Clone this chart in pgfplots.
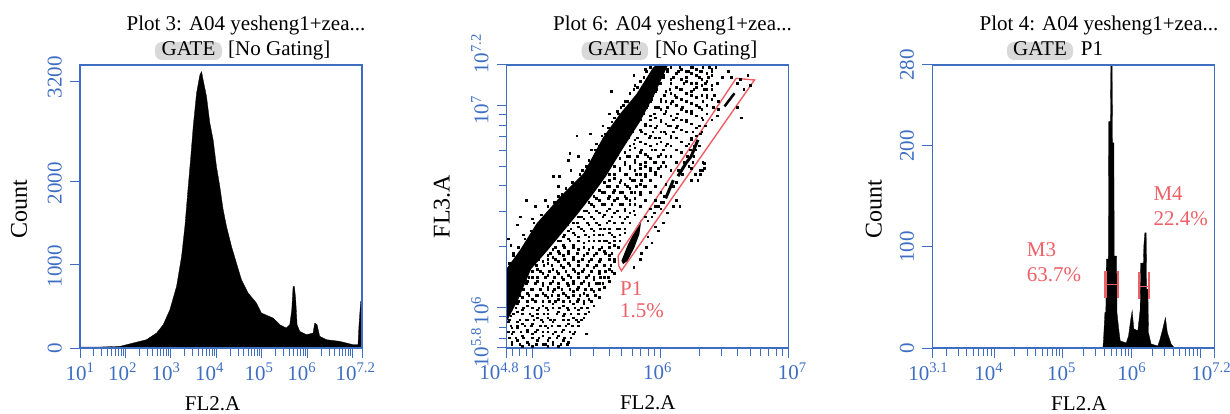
\documentclass[border=0pt]{standalone}
\usepackage{fontspec}
\usepackage{pgfplots}
\pgfplotsset{compat=1.18}
\setmainfont{Liberation Serif}
\definecolor{fb}{HTML}{3D6EC2}
\definecolor{fr}{HTML}{EE5F66}
\newcommand{\tp}[1]{10\textsuperscript{#1}}
\newcommand{\fs}{\fontsize{21}{24}\selectfont}
\newcommand{\fy}{\fontsize{24}{27}\selectfont}
\pgfplotsset{fl/.style={
  scale only axis, axis line style={fb,line width=1.3pt}, tick style={fb,line width=1pt},
  tick align=outside, xtick pos=bottom, ytick pos=left, major tick length=10pt, minor tick length=8pt,
  tick label style={text=fb,font=\fs}, label style={font=\fs,text=black,inner sep=0pt},
  ylabel style={font=\fy},
  xticklabel style={anchor=base,yshift=-22pt,inner sep=0pt},
  yticklabel style={rotate=90,anchor=south,inner sep=0pt,yshift=8pt},
  clip=true, axis on top,
  width=282pt, height=283pt, anchor=south west}}
\begin{document}
\begin{tikzpicture}[x=1pt,y=1pt]
\path[use as bounding box] (0,0) rectangle (1230,413);
% ---------- left
\begin{axis}[fl, at={(80pt,65pt)}, xmode=log, xmin=10, xmax=15848932, ymin=0, ymax=3400,
  xtick={10,100,1000,10000,100000,1000000,10000000},
  minor xtick={20,30,40,50,60,70,80,90,200,300,400,500,600,700,800,900,2000,3000,4000,5000,6000,7000,8000,9000,20000,30000,40000,50000,60000,70000,80000,90000,200000,300000,400000,500000,600000,700000,800000,900000,2000000,3000000,4000000,5000000,6000000,7000000,8000000,9000000},
  xticklabels={\tp{1},\tp{2}\kern6pt,\tp{3}\kern10pt,\tp{4}\kern14pt,\tp{5}\kern6pt,\tp{6}\kern11pt,{}},
  extra x ticks={15848932}, extra x tick labels={\tp{7.2}\kern13pt},
  ytick={0,1000,2000,3200},
  yticklabels={0,\kern-3pt 1000,\kern-3pt 2000,\kern9pt 3200},
  xlabel={FL2.A}, ylabel={Count},
  xlabel style={at={(axis description cs:0.47,0)},anchor=base,yshift=-62pt},
  ylabel style={at={(axis description cs:0,0.49)},anchor=base,yshift=53pt}]
\addplot[fill=black,draw=black,line width=.3pt] table[x expr=10^\thisrow{lx},y=c]{
lx c
1.000 12
1.439 12
1.878 20
2.171 60
2.464 100
2.684 180
2.830 280
2.976 460
3.123 740
3.233 1100
3.306 1460
3.379 1940
3.430 2260
3.489 2660
3.562 3060
3.635 3280
3.672 3320
3.723 3180
3.782 3020
3.855 2700
3.928 2500
4.001 2180
4.074 1940
4.148 1660
4.221 1460
4.331 1220
4.440 1020
4.550 820
4.697 660
4.880 540
4.989 420
5.246 360
5.392 280
5.538 240
5.612 280
5.656 460
5.685 740
5.714 740
5.743 580
5.773 280
5.831 200
5.978 160
6.124 180
6.161 300
6.212 280
6.270 140
6.417 100
6.710 80
7.002 40
7.112 40
7.134 280
7.171 560
7.200 560
} \closedcycle;
\end{axis}
% ---------- middle
\begin{axis}[fl, at={(506.7pt,65pt)}, xmode=log, ymode=log, xmin=63096, xmax=10000000, ymin=630957, ymax=15848932,
  xtick={100000,1000000,10000000},
  minor xtick={70000,80000,90000,200000,300000,400000,500000,600000,700000,800000,900000,2000000,3000000,4000000,5000000,6000000,7000000,8000000,9000000},
  xticklabels={\kern9pt\tp{5},\tp{6}\kern6pt,\kern7pt\tp{7}},
  extra x ticks={63096}, extra x tick labels={\tp{4.8}\kern15pt},
  ytick={1000000,10000000},
  minor ytick={700000,800000,900000,2000000,3000000,4000000,5000000,6000000,7000000,8000000,9000000},
  yticklabels={\kern-7pt\tp{6},\kern-10pt\tp{7}},
  extra y ticks={630957,15848932}, extra y tick labels={\tp{5.8},\kern22pt\tp{7.2}},
  xlabel={FL2.A}, ylabel={FL3.A},
  xlabel style={at={(axis description cs:0.5,0)},anchor=base,yshift=-62pt},
  ylabel style={at={(axis description cs:0,0.5)},anchor=base,yshift=57pt}]
\addplot[fill=black,draw=none] table[x expr=10^\thisrow{lx},y expr=10^\thisrow{ly},row sep=\\]{
lx ly\\ 4.8 6.194\\ 4.904 6.285\\ 5.033 6.416\\ 5.215 6.547\\ 5.397 6.662\\ 5.552 6.842\\ 5.682 6.957\\ 5.812 7.056\\ 5.941 7.187\\ 5.967 7.2\\
6.058 7.2\\ 5.95 7.05\\ 5.84 6.92\\ 5.69 6.77\\ 5.575 6.65\\ 5.46 6.55\\ 5.35 6.46\\ 5.22 6.36\\ 5.115 6.28\\ 4.99 6.19\\ 4.89 6.04\\ 4.8 5.93\\
};
\addplot[fill=black,draw=none] table[x expr=10^\thisrow{lx},y expr=10^\thisrow{ly},row sep=\\]{
lx ly\\ 5.695 6.232\\ 5.747 6.314\\ 5.812 6.396\\ 5.851 6.437\\ 5.835 6.363\\ 5.796 6.297\\ 5.744 6.232\\ 5.708 6.215\\
};
\addplot[black,line width=3pt] table[x expr=10^\thisrow{lx},y expr=10^\thisrow{ly},row sep=\\]{lx ly\\ 6.04 6.54\\ 6.1 6.63\\};
\addplot[black,line width=3pt] table[x expr=10^\thisrow{lx},y expr=10^\thisrow{ly},row sep=\\]{lx ly\\ 6.136 6.65\\ 6.2 6.716\\ 6.24 6.749\\ 6.292 6.83\\};
\addplot[black,line width=2.5pt] table[x expr=10^\thisrow{lx},y expr=10^\thisrow{ly},row sep=\\]{lx ly\\ 6.499 6.995\\ 6.577 7.06\\};
\addplot[black,line width=3pt] table[x expr=10^\thisrow{lx},y expr=10^\thisrow{ly},row sep=\\]{lx ly\\ 5.96 7.2\\ 7 7.2\\};
\addplot[only marks,mark=square*,mark size=.8pt,black] table[x expr=10^\thisrow{lx},y expr=10^\thisrow{ly},row sep=\\]{
lx ly\\
4.84 5.82\\ 4.9 5.82\\ 4.97 5.82\\ 5.03 5.82\\ 5.1 5.82\\ 5.16 5.82\\ 5.22 5.82\\ 5.27 5.82\\
4.82 5.85\\ 4.87 5.85\\ 4.93 5.85\\ 5 5.85\\ 5.05 5.85\\ 5.13 5.85\\ 5.19 5.85\\ 5.25 5.85\\ 5.3 5.85\\
4.81 5.88\\ 4.85 5.88\\ 4.91 5.88\\ 4.96 5.88\\ 5.02 5.88\\ 5.08 5.88\\ 5.12 5.88\\ 5.18 5.88\\ 5.23 5.88\\ 5.29 5.88\\ 5.33 5.88\\ 5.42 5.87\\
4.83 5.91\\ 4.88 5.91\\ 4.94 5.91\\ 4.99 5.91\\ 5.06 5.91\\ 5.1 5.91\\ 5.15 5.91\\ 5.21 5.91\\ 5.26 5.91\\ 5.31 5.91\\ 5.36 5.91\\
4.82 5.94\\ 4.9 5.94\\ 4.95 5.94\\ 5.01 5.94\\ 5.07 5.94\\ 5.14 5.94\\ 5.17 5.94\\ 5.24 5.94\\ 5.28 5.94\\ 5.34 5.94\\ 5.38 5.94\\
4.85 5.97\\ 4.92 5.97\\ 4.98 5.97\\ 5.04 5.97\\ 5.09 5.97\\ 5.12 5.97\\ 5.19 5.97\\ 5.25 5.97\\ 5.3 5.97\\ 5.36 5.97\\ 5.41 5.97\\
4.87 6\\ 4.93 6\\ 5 6\\ 5.05 6\\ 5.11 6\\ 5.16 6\\ 5.21 6\\ 5.27 6\\ 5.33 6\\ 5.38 6\\ 5.43 6\\
4.89 6.03\\ 4.96 6.03\\ 5.02 6.03\\ 5.08 6.03\\ 5.13 6.03\\ 5.18 6.03\\ 5.24 6.03\\ 5.29 6.03\\ 5.35 6.03\\ 5.4 6.03\\ 5.46 6.03\\
4.9 6.06\\ 4.97 6.06\\ 5.03 6.06\\ 5.1 6.06\\ 5.15 6.06\\ 5.2 6.06\\ 5.26 6.06\\ 5.32 6.06\\ 5.37 6.06\\ 5.43 6.06\\ 5.49 6.06\\
4.93 6.09\\ 4.99 6.09\\ 5.06 6.09\\ 5.12 6.09\\ 5.17 6.09\\ 5.23 6.09\\ 5.29 6.09\\ 5.35 6.09\\ 5.41 6.09\\ 5.46 6.09\\ 5.52 6.09\\
4.95 6.12\\ 5.02 6.12\\ 5.08 6.12\\ 5.14 6.12\\ 5.2 6.12\\ 5.27 6.12\\ 5.32 6.12\\ 5.38 6.12\\ 5.44 6.12\\ 5.5 6.12\\ 5.55 6.12\\
4.97 6.15\\ 5.04 6.15\\ 5.1 6.15\\ 5.17 6.15\\ 5.23 6.15\\ 5.3 6.15\\ 5.36 6.15\\ 5.42 6.15\\ 5.48 6.15\\ 5.53 6.15\\ 5.59 6.15\\
5 6.18\\ 5.06 6.18\\ 5.13 6.18\\ 5.19 6.18\\ 5.26 6.18\\ 5.33 6.18\\ 5.39 6.18\\ 5.46 6.18\\ 5.52 6.18\\ 5.57 6.18\\ 5.62 6.18\\
5.03 6.21\\ 5.09 6.21\\ 5.15 6.21\\ 5.22 6.21\\ 5.29 6.21\\ 5.36 6.21\\ 5.43 6.21\\ 5.5 6.21\\ 5.56 6.21\\ 5.61 6.21\\
5.05 6.24\\ 5.12 6.24\\ 5.18 6.24\\ 5.25 6.24\\ 5.32 6.24\\ 5.39 6.24\\ 5.46 6.24\\ 5.53 6.24\\ 5.6 6.24\\ 5.64 6.24\\
5.08 6.27\\ 5.14 6.27\\ 5.21 6.27\\ 5.28 6.27\\ 5.35 6.27\\ 5.43 6.27\\ 5.5 6.27\\ 5.57 6.27\\ 5.62 6.27\\
5.11 6.3\\ 5.18 6.3\\ 5.25 6.3\\ 5.32 6.3\\ 5.4 6.3\\ 5.47 6.3\\ 5.54 6.3\\ 5.6 6.3\\ 5.67 6.3\\
5.15 6.33\\ 5.22 6.33\\ 5.29 6.33\\ 5.36 6.33\\ 5.44 6.33\\ 5.52 6.33\\ 5.58 6.33\\ 5.64 6.33\\
5.18 6.36\\ 5.25 6.36\\ 5.33 6.36\\ 5.41 6.36\\ 5.48 6.36\\ 5.55 6.36\\ 5.62 6.36\\ 5.68 6.36\\
5.22 6.39\\ 5.3 6.39\\ 5.38 6.39\\ 5.46 6.39\\ 5.53 6.39\\ 5.6 6.39\\ 5.66 6.39\\ 5.72 6.39\\
5.27 6.42\\ 5.35 6.42\\ 5.43 6.42\\ 5.5 6.42\\ 5.58 6.42\\ 5.64 6.42\\ 5.7 6.42\\
5.3 6.45\\ 5.38 6.45\\ 5.46 6.45\\ 5.55 6.45\\ 5.62 6.45\\ 5.68 6.45\\ 5.74 6.45\\
5.34 6.48\\ 5.42 6.48\\ 5.5 6.48\\ 5.58 6.48\\ 5.66 6.48\\ 5.72 6.48\\ 5.79 6.48\\
5.37 6.51\\ 5.46 6.51\\ 5.54 6.51\\ 5.62 6.51\\ 5.7 6.51\\ 5.76 6.51\\
5.41 6.54\\ 5.5 6.54\\ 5.59 6.54\\ 5.66 6.54\\ 5.73 6.54\\ 5.8 6.54\\
5.45 6.57\\ 5.54 6.57\\ 5.63 6.57\\ 5.7 6.57\\ 5.77 6.57\\ 5.84 6.57\\
5.49 6.6\\ 5.58 6.6\\ 5.66 6.6\\ 5.74 6.6\\ 5.81 6.6\\ 5.87 6.6\\
5.52 6.63\\ 5.6 6.63\\ 5.69 6.63\\ 5.78 6.63\\ 5.85 6.63\\ 5.92 6.63\\
5.56 6.66\\ 5.64 6.66\\ 5.73 6.66\\ 5.81 6.66\\ 5.88 6.66\\ 5.96 6.66\\ 6.31 6.66\\
5.58 6.69\\ 5.68 6.69\\ 5.76 6.69\\ 5.84 6.69\\ 5.92 6.69\\ 5.98 6.69\\ 6.24 6.69\\ 6.34 6.69\\
5.62 6.72\\ 5.72 6.72\\ 5.8 6.72\\ 5.88 6.72\\ 5.95 6.72\\ 6.02 6.72\\ 6.33 6.72\\
5.65 6.75\\ 5.74 6.75\\ 5.82 6.75\\ 5.9 6.75\\ 5.98 6.75\\ 6.26 6.75\\
5.67 6.78\\ 5.76 6.78\\ 5.85 6.78\\ 5.93 6.78\\ 6.02 6.78\\ 6.23 6.78\\
5.7 6.81\\ 5.79 6.81\\ 5.88 6.81\\ 5.97 6.81\\ 6.05 6.81\\ 6.22 6.81\\
5.74 6.84\\ 5.82 6.84\\ 5.91 6.84\\ 5.99 6.84\\ 6.08 6.84\\ 6.24 6.84\\
5.77 6.87\\ 5.85 6.87\\ 5.94 6.87\\ 6.03 6.87\\ 6.1 6.87\\ 6.25 6.87\\
5.8 6.9\\ 5.88 6.9\\ 5.97 6.9\\ 6.06 6.9\\ 6.13 6.9\\ 6.3 6.9\\
5.83 6.93\\ 5.92 6.93\\ 6 6.93\\ 6.1 6.93\\ 6.2 6.93\\ 6.33 6.93\\
5.86 6.96\\ 5.95 6.96\\ 6.03 6.96\\ 6.13 6.96\\ 6.24 6.96\\ 6.36 6.96\\
5.89 6.99\\ 5.98 6.99\\ 6.05 6.99\\ 6.17 6.99\\ 6.3 6.99\\ 6.41 6.99\\
5.92 7.02\\ 6 7.02\\ 6.09 7.02\\ 6.2 7.02\\ 6.33 7.02\\ 6.45 7.02\\
5.94 7.05\\ 6.03 7.05\\ 6.11 7.05\\ 6.24 7.05\\ 6.36 7.05\\ 6.42 7.05\\
5.97 7.08\\ 6.07 7.08\\ 6.15 7.08\\ 6.26 7.08\\ 6.34 7.08\\ 6.4 7.08\\
6 7.11\\ 6.08 7.11\\ 6.18 7.11\\ 6.28 7.11\\ 6.35 7.11\\ 6.44 7.11\\ 6.6 7.11\\
6.02 7.14\\ 6.1 7.14\\ 6.2 7.14\\ 6.3 7.14\\ 6.37 7.14\\ 6.48 7.14\\ 6.55 7.14\\
6.05 7.17\\ 6.14 7.17\\ 6.22 7.17\\ 6.31 7.17\\ 6.4 7.17\\ 6.53 7.17\\
6.08 7.19\\ 6.15 7.19\\ 6.25 7.19\\ 6.33 7.19\\ 6.38 7.19\\ 6.43 7.19\\
4.95 6.53\\ 5.02 6.5\\ 4.904 6.45\\ 4.81 6.34\\ 4.83 6.31\\ 4.88 6.41\\ 5.163 6.65\\ 5.21 6.65\\ 5.29 6.765\\ 5.28 6.73\\ 5.345 6.85\\ 5.45 6.86\\ 5.5 6.81\\ 5.617 7.07\\ 5.67 6.96\\ 5.79 7.15\\
5.2 6.6\\ 5.1 6.53\\ 5.0 6.44\\ 4.93 6.36\\ 4.85 6.27\\ 5.3 6.68\\ 5.36 6.75\\ 5.46 6.78\\ 5.55 6.9\\ 5.6 6.96\\ 5.72 7.02\\ 5.8 7.1\\ 5.88 7.18\\
5.89 6.3\\ 5.84 6.24\\ 5.79 6.2\\ 5.96 6.4\\ 6.15 6.5\\ 6.24 6.63\\ 6.33 6.68\\ 6.34 6.715\\ 6.63 6.94\\ 6.6 6.99\\ 6.68 7.15\\
5.95 6.47\\ 5.98 6.5\\ 6 6.49\\ 6.02 6.52\\ 6.32 6.87\\ 6.35 6.9\\ 6.4 6.93\\ 6.44 6.95\\ 6.45 6.98\\ 6.7 7.1\\ 6.65 7.08\\ 6.62 7.13\\
5.9 6.43\\ 5.93 6.45\\ 5.96 6.5\\ 6 6.52\\ 6.03 6.55\\ 6.1 6.6\\ 6.12 6.62\\ 6.14 6.68\\ 6.17 6.66\\ 6.18 6.72\\ 6.22 6.7\\ 6.25 6.72\\ 6.27 6.78\\ 6.3 6.8\\ 6.31 6.86\\ 6.28 6.85\\ 6.26 6.8\\ 6.21 6.75\\
6.27 6.66\\ 6.31 6.68\\ 6.29 6.63\\ 6.1 6.5\\ 6.12 6.53\\ 6.05 6.47\\ 5.98 6.38\\ 6.02 6.42\\ 5.9 6.35\\ 5.85 6.27\\ 5.93 6.32\\
4.82 6.22\\ 4.85 6.26\\ 4.87 6.23\\ 4.89 6.3\\ 4.92 6.29\\ 4.94 6.34\\ 4.97 6.33\\ 4.99 6.38\\ 5.01 6.42\\ 5.04 6.41\\ 5.07 6.46\\ 5.09 6.43\\ 5.12 6.5\\ 5.14 6.47\\ 5.17 6.52\\ 5.2 6.55\\ 5.23 6.56\\ 5.26 6.59\\ 5.29 6.58\\ 5.31 6.62\\ 5.34 6.61\\ 5.37 6.66\\ 5.39 6.68\\ 5.42 6.7\\ 5.44 6.73\\ 5.47 6.74\\ 5.49 6.78\\ 5.52 6.8\\ 5.54 6.85\\ 5.57 6.86\\ 5.59 6.89\\ 5.62 6.92\\ 5.64 6.94\\ 5.66 6.97\\ 5.69 6.99\\ 5.71 7\\ 5.74 7.02\\ 5.76 7.06\\ 5.79 7.08\\ 5.82 7.09\\ 5.84 7.12\\ 5.87 7.14\\ 5.89 7.17\\ 5.92 7.19\\
4.81 5.93\\ 4.83 5.96\\ 4.84 6\\ 4.87 6.03\\ 4.89 6.07\\ 4.91 6.1\\ 4.93 6.15\\ 4.96 6.19\\ 4.98 6.21\\ 5.01 6.22\\ 5.03 6.24\\ 5.06 6.26\\ 5.09 6.28\\ 5.12 6.3\\ 5.15 6.33\\ 5.18 6.35\\ 5.21 6.37\\ 5.24 6.39\\ 5.27 6.41\\ 5.3 6.44\\ 5.33 6.46\\ 5.36 6.49\\ 5.39 6.51\\ 5.42 6.55\\ 5.45 6.57\\ 5.48 6.6\\ 5.51 6.62\\ 5.54 6.65\\ 5.57 6.68\\ 5.6 6.7\\ 5.63 6.73\\ 5.66 6.76\\ 5.69 6.79\\ 5.72 6.82\\ 5.75 6.84\\ 5.78 6.87\\ 5.81 6.91\\ 5.84 6.93\\ 5.87 6.96\\ 5.9 7\\ 5.93 7.03\\ 5.96 7.07\\ 5.99 7.11\\ 6.02 7.15\\ 6.05 7.18\\
4.84 5.83\\ 4.84 5.87\\ 4.84 5.9\\ 4.88 5.84\\ 4.88 5.9\\ 4.88 5.93\\ 4.88 5.98\\ 4.88 6.02\\ 4.92 5.81\\ 4.92 5.86\\ 4.92 5.92\\ 4.92 5.99\\ 4.92 6.05\\
4.96 5.83\\ 4.96 5.89\\ 4.96 5.94\\ 4.96 6.01\\ 4.96 6.07\\ 4.96 6.13\\ 5 5.81\\ 5 5.87\\ 5 5.92\\ 5 5.96\\ 5 6.04\\ 5 6.09\\ 5 6.15\\
5.04 5.84\\ 5.04 5.89\\ 5.04 5.95\\ 5.04 5.99\\ 5.04 6.06\\ 5.04 6.13\\ 5.04 6.19\\ 5.08 5.82\\ 5.08 5.86\\ 5.08 5.93\\ 5.08 6.01\\ 5.08 6.07\\ 5.08 6.11\\ 5.08 6.17\\ 5.08 6.23\\
5.12 5.81\\ 5.12 5.84\\ 5.12 5.9\\ 5.12 5.95\\ 5.12 5.99\\ 5.12 6.05\\ 5.12 6.1\\ 5.12 6.16\\ 5.12 6.22\\ 5.12 6.26\\ 5.16 5.83\\ 5.16 5.87\\ 5.16 5.93\\ 5.16 6.02\\ 5.16 6.08\\ 5.16 6.13\\ 5.16 6.19\\ 5.16 6.25\\ 5.16 6.29\\
5.2 5.81\\ 5.2 5.86\\ 5.2 5.91\\ 5.2 5.98\\ 5.2 6.04\\ 5.2 6.1\\ 5.2 6.17\\ 5.2 6.23\\ 5.2 6.28\\ 5.2 6.33\\ 5.24 5.84\\ 5.24 5.89\\ 5.24 5.96\\ 5.24 6.01\\ 5.24 6.07\\ 5.24 6.14\\ 5.24 6.2\\ 5.24 6.26\\ 5.24 6.31\\ 5.24 6.35\\
5.28 5.83\\ 5.28 5.92\\ 5.28 5.99\\ 5.28 6.05\\ 5.28 6.11\\ 5.28 6.16\\ 5.28 6.22\\ 5.28 6.28\\ 5.28 6.34\\ 5.28 6.38\\ 5.32 5.87\\ 5.32 5.95\\ 5.32 6.02\\ 5.32 6.08\\ 5.32 6.13\\ 5.32 6.19\\ 5.32 6.25\\ 5.32 6.31\\ 5.32 6.37\\ 5.32 6.42\\
5.36 5.93\\ 5.36 5.99\\ 5.36 6.04\\ 5.36 6.1\\ 5.36 6.17\\ 5.36 6.23\\ 5.36 6.29\\ 5.36 6.35\\ 5.36 6.4\\ 5.36 6.45\\ 5.4 5.95\\ 5.4 6.02\\ 5.4 6.07\\ 5.4 6.13\\ 5.4 6.19\\ 5.4 6.26\\ 5.4 6.32\\ 5.4 6.38\\ 5.4 6.44\\ 5.4 6.48\\
5.44 5.98\\ 5.44 6.04\\ 5.44 6.11\\ 5.44 6.16\\ 5.44 6.23\\ 5.44 6.29\\ 5.44 6.35\\ 5.44 6.41\\ 5.44 6.47\\ 5.44 6.52\\ 5.48 6.01\\ 5.48 6.08\\ 5.48 6.14\\ 5.48 6.2\\ 5.48 6.26\\ 5.48 6.33\\ 5.48 6.38\\ 5.48 6.44\\ 5.48 6.5\\ 5.48 6.55\\
5.52 6.05\\ 5.52 6.12\\ 5.52 6.17\\ 5.52 6.23\\ 5.52 6.29\\ 5.52 6.36\\ 5.52 6.41\\ 5.52 6.47\\ 5.52 6.53\\ 5.52 6.58\\ 5.56 6.1\\ 5.56 6.15\\ 5.56 6.21\\ 5.56 6.28\\ 5.56 6.33\\ 5.56 6.39\\ 5.56 6.46\\ 5.56 6.51\\ 5.56 6.57\\ 5.56 6.62\\
5.6 6.13\\ 5.6 6.19\\ 5.6 6.26\\ 5.6 6.32\\ 5.6 6.37\\ 5.6 6.43\\ 5.6 6.49\\ 5.6 6.55\\ 5.6 6.6\\ 5.6 6.66\\ 5.64 6.17\\ 5.64 6.23\\ 5.64 6.31\\ 5.64 6.35\\ 5.64 6.42\\ 5.64 6.47\\ 5.64 6.53\\ 5.64 6.58\\ 5.64 6.64\\ 5.64 6.7\\
5.68 6.33\\ 5.68 6.39\\ 5.68 6.45\\ 5.68 6.51\\ 5.68 6.57\\ 5.68 6.62\\ 5.68 6.68\\ 5.68 6.74\\ 5.72 6.37\\ 5.72 6.44\\ 5.72 6.49\\ 5.72 6.55\\ 5.72 6.61\\ 5.72 6.66\\ 5.72 6.71\\ 5.72 6.77\\
5.76 6.42\\ 5.76 6.47\\ 5.76 6.53\\ 5.76 6.59\\ 5.76 6.64\\ 5.76 6.7\\ 5.76 6.75\\ 5.76 6.8\\ 5.8 6.46\\ 5.8 6.51\\ 5.8 6.57\\ 5.8 6.63\\ 5.8 6.68\\ 5.8 6.73\\ 5.8 6.79\\ 5.8 6.83\\
5.84 6.5\\ 5.84 6.56\\ 5.84 6.61\\ 5.84 6.66\\ 5.84 6.71\\ 5.84 6.77\\ 5.84 6.82\\ 5.84 6.88\\ 5.88 6.45\\ 5.88 6.53\\ 5.88 6.6\\ 5.88 6.65\\ 5.88 6.7\\ 5.88 6.76\\ 5.88 6.81\\ 5.88 6.86\\ 5.88 6.91\\
5.92 6.49\\ 5.92 6.57\\ 5.92 6.63\\ 5.92 6.68\\ 5.92 6.74\\ 5.92 6.8\\ 5.92 6.85\\ 5.92 6.9\\ 5.92 6.95\\ 5.96 6.53\\ 5.96 6.6\\ 5.96 6.67\\ 5.96 6.72\\ 5.96 6.78\\ 5.96 6.84\\ 5.96 6.89\\ 5.96 6.94\\ 5.96 6.99\\
6 6.57\\ 6 6.65\\ 6 6.7\\ 6 6.76\\ 6 6.82\\ 6 6.87\\ 6 6.92\\ 6 6.98\\ 6 7.03\\ 6.04 6.61\\ 6.04 6.7\\ 6.04 6.75\\ 6.04 6.8\\ 6.04 6.86\\ 6.04 6.91\\ 6.04 6.97\\ 6.04 7.02\\ 6.04 7.07\\
6.08 6.68\\ 6.08 6.75\\ 6.08 6.8\\ 6.08 6.85\\ 6.08 6.9\\ 6.08 6.95\\ 6.08 7.01\\ 6.08 7.06\\ 6.08 7.13\\ 6.12 6.72\\ 6.12 6.78\\ 6.12 6.84\\ 6.12 6.89\\ 6.12 6.94\\ 6.12 7\\ 6.12 7.04\\ 6.12 7.09\\ 6.12 7.16\\
6.16 6.77\\ 6.16 6.82\\ 6.16 6.88\\ 6.16 6.93\\ 6.16 6.98\\ 6.16 7.03\\ 6.16 7.08\\ 6.16 7.13\\ 6.16 7.18\\ 6.2 6.8\\ 6.2 6.87\\ 6.2 6.92\\ 6.2 6.97\\ 6.2 7.02\\ 6.2 7.06\\ 6.2 7.12\\ 6.2 7.17\\
6.24 6.83\\ 6.24 6.91\\ 6.24 6.97\\ 6.24 7.01\\ 6.24 7.07\\ 6.24 7.11\\ 6.24 7.16\\ 6.24 7.19\\ 6.28 6.89\\ 6.28 6.95\\ 6.28 7\\ 6.28 7.04\\ 6.28 7.09\\ 6.28 7.15\\ 6.28 7.18\\
6.32 6.94\\ 6.32 6.98\\ 6.32 7.05\\ 6.32 7.1\\ 6.32 7.13\\ 6.32 7.17\\ 6.36 7\\ 6.36 7.04\\ 6.36 7.08\\ 6.36 7.12\\ 6.36 7.16\\ 6.4 7.03\\ 6.4 7.1\\ 6.4 7.15\\ 6.4 7.18\\
};
\addplot[fr,line width=1.4pt] table[x expr=10^\thisrow{lx},y expr=10^\thisrow{ly},row sep=\\]{
lx ly\\ 5.669 6.256\\ 5.674 6.207\\ 5.695 6.182\\ 6.733 7.126\\ 6.66 7.13\\ 6.59 7.134\\ 5.669 6.256\\
};
\end{axis}
% ---------- right
\begin{axis}[fl, at={(932.3pt,65pt)}, xmode=log, xmin=1258.9, xmax=15848932, ymin=0, ymax=280,
  xtick={10000,100000,1000000,10000000},
  minor xtick={2000,3000,4000,5000,6000,7000,8000,9000,20000,30000,40000,50000,60000,70000,80000,90000,200000,300000,400000,500000,600000,700000,800000,900000,2000000,3000000,4000000,5000000,6000000,7000000,8000000,9000000},
  xticklabels={\tp{4}\kern11pt,\tp{5}\kern3pt,\tp{6},{}},
  extra x ticks={1258.9,15848932}, extra x tick labels={\tp{3.1}\kern8pt,\tp{7.2}\kern6pt},
  ytick={0,100,200,280},
  yticklabels={0,100,200,280},
  xlabel={FL2.A}, ylabel={Count},
  xlabel style={at={(axis description cs:0.52,0)},anchor=base,yshift=-62pt},
  ylabel style={at={(axis description cs:0,0.49)},anchor=base,yshift=50.6pt}]
\addplot[fill=black,draw=black,line width=.3pt] table[x expr=10^\thisrow{lx},y=c]{
lx c
5.580 0
5.590 9
5.609 35
5.623 35
5.630 88
5.660 88
5.665 224
5.690 224
5.695 280
5.715 280
5.720 203
5.740 203
5.745 91
5.780 91
5.785 35
5.810 19
5.832 7
5.919 5
5.953 12
5.982 27
6.006 37
6.030 19
6.088 17
6.122 38
6.130 84
6.170 84
6.175 101
6.190 114
6.210 114
6.215 58
6.235 58
6.243 15
6.281 4
6.378 2
6.412 9
6.451 19
6.489 30
6.518 15
6.572 4
6.620 0
} \closedcycle;
\addplot[fr,line width=2.5pt] coordinates {(415991,49)(415991,76)};
\addplot[fr,line width=2.5pt] coordinates {(628058,49)(628058,76)};
\addplot[fr,line width=1.5pt] coordinates {(415991,63)(628058,63)};
\addplot[fr,line width=1.8pt] coordinates {(1267652,48)(1267652,75)};
\addplot[fr,line width=1.8pt] coordinates {(1770109,48)(1770109,75)};
\addplot[fr,line width=1.5pt] coordinates {(1267652,61)(1770109,61)};
\end{axis}
% ---------- texts
\tikzset{t/.style={font=\fs,inner sep=0pt,anchor=base}, l/.style={font=\fs,inner sep=0pt,anchor=base west},
  r/.style={font=\fs,inner sep=0pt,anchor=base west,text=fr}}
\fill[gray!30,rounded corners=7pt] (155,353) rectangle (222,371);
\fill[gray!30,rounded corners=7pt] (581.7,353) rectangle (648,371);
\fill[gray!30,rounded corners=7pt] (1007,353) rectangle (1073,371);
\node[t] at (246,382) {Plot 3: A04 yesheng1+zea...};
\node[t] at (188.5,357) {GATE};
\node[l] at (228,357) {[No Gating]};
\node[t] at (672.5,382) {Plot 6: A04 yesheng1+zea...};
\node[t] at (615,357) {GATE};
\node[l] at (655,357) {[No Gating]};
\node[t] at (1099,382) {Plot 4: A04 yesheng1+zea...};
\node[t] at (1040,357) {GATE};
\node[l] at (1080.7,357) {P1};
\node[r] at (620,118) {P1};
\node[r] at (620,96) {1.5\%};
\node[r] at (1026.7,156.3) {M3};
\node[r] at (1026.7,132) {63.7\%};
\node[r] at (1153.3,213) {M4};
\node[r] at (1153.3,187.3) {22.4\%};
\end{tikzpicture}
\end{document}
